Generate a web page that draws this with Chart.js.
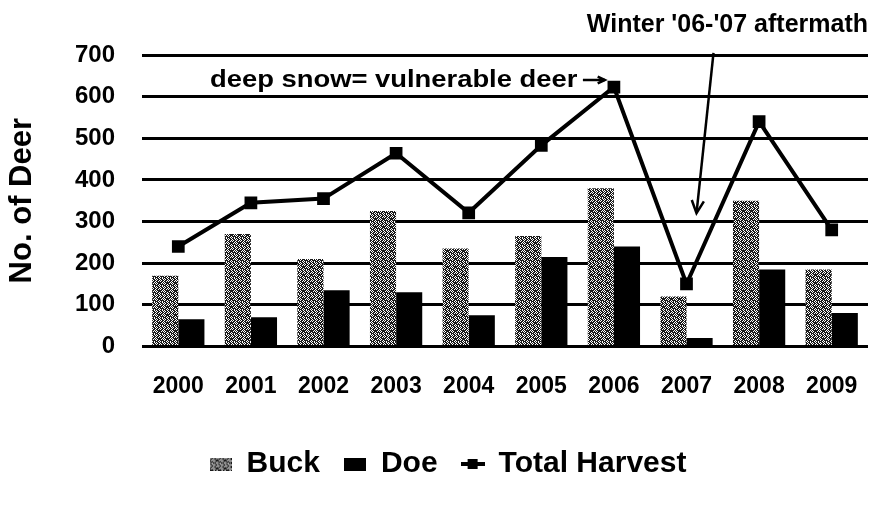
<!DOCTYPE html>
<html>
<head>
<meta charset="utf-8">
<script src="https://cdn.jsdelivr.net/npm/chart.js@4.4.0/dist/chart.umd.min.js"></script>
<style>
    html, body { margin: 0; padding: 0; background: #fff; }
</style>
</head>
<body>
<canvas id="deer-chart" width="888" height="506"></canvas>
<script>
// Harvest data
const years = ["2000", "2001", "2002", "2003", "2004", "2005", "2006", "2007", "2008", "2009"];
const buck = [170, 270, 210, 325, 235, 265, 380, 120, 350, 185];
const doe = [65, 70, 135, 130, 75, 215, 240, 20, 185, 80];
const totalHarvest = [240, 345, 355, 464, 321, 483, 623, 150, 540, 280];
const yTicks = [0, 100, 200, 300, 400, 500, 600, 700];
const legendOrder = ["Buck", "Doe", "Total Harvest"];

const FONT = "'Liberation Sans', Arial, sans-serif";

// Stippled fill used for the Buck bars
const stippleRows = [
    "10110110",
    "01101101",
    "11010111",
    "10101011",
    "11110110",
    "01011101",
    "11010110",
    "01101011"
];
function makeStipple(w, h) {
    const c = document.createElement("canvas");
    c.width = w;
    c.height = h;
    const g = c.getContext("2d");
    g.fillStyle = "#fff";
    g.fillRect(0, 0, w, h);
    g.fillStyle = "#1a1a1a";
    for (let y = 0; y < h; y++) {
        for (let x = 0; x < w; x++) {
            if (stippleRows[y % 8][x % 8] === "1") g.fillRect(x, y, 1, 1);
        }
    }
    return c;
}
const stippleTile = makeStipple(8, 8);
const stipplePattern = document.createElement("canvas").getContext("2d").createPattern(stippleTile, "repeat");

// Legend icons
const buckIcon = makeStipple(22, 13);
const doeIcon = document.createElement("canvas");
doeIcon.width = 22; doeIcon.height = 13;
doeIcon.getContext("2d").fillRect(0, 0, 22, 13);
const totalIcon = document.createElement("canvas");
totalIcon.width = 24; totalIcon.height = 12;
(function () {
    const g = totalIcon.getContext("2d");
    g.fillStyle = "#000";
    g.fillRect(0, 4, 24, 4);
    g.fillRect(7, 1, 10, 10);
})();
const legendIcons = [buckIcon, doeIcon, totalIcon];

function arrowHead(ctx, x0, y0, x1, y1, len) {
    const ang = Math.atan2(y1 - y0, x1 - x0);
    ctx.beginPath();
    ctx.moveTo(x1 - len * Math.cos(ang - 0.45), y1 - len * Math.sin(ang - 0.45));
    ctx.lineTo(x1, y1);
    ctx.lineTo(x1 - len * Math.cos(ang + 0.45), y1 - len * Math.sin(ang + 0.45));
    ctx.stroke();
}

// Text notes and the arrows
const notesPlugin = {
    id: "notes",
    afterDraw(chart) {
        const ctx = chart.ctx;
        const x = chart.scales.x;
        const y = chart.scales.y;
        ctx.save();
        ctx.fillStyle = "#000";
        ctx.strokeStyle = "#000";

        ctx.font = "bold 25px " + FONT;
        ctx.textAlign = "right";
        ctx.textBaseline = "alphabetic";
        ctx.fillText("Winter '06-'07 aftermath", 868, 32);

        ctx.save();
        ctx.translate(210, 87);
        ctx.scale(1.19, 1);
        ctx.font = "bold 23px " + FONT;
        ctx.textAlign = "left";
        ctx.fillText("deep snow= vulnerable deer", 0, 0);
        ctx.restore();

        // small arrow after the text, towards the 2006 peak
        const ax = x.getPixelForValue(6) - 9;
        ctx.lineWidth = 2.5;
        ctx.beginPath();
        ctx.moveTo(ax - 22, 80);
        ctx.lineTo(ax, 80);
        ctx.stroke();
        arrowHead(ctx, ax - 22, 80, ax, 80, 8);

        // long arrow pointing at 2007
        const x0 = x.getPixelForValue(7) + 27, y0 = y.getPixelForValue(705);
        const x1 = x.getPixelForValue(7) + 10, y1 = y.getPixelForValue(320);
        ctx.lineWidth = 2.5;
        ctx.beginPath();
        ctx.moveTo(x0, y0);
        ctx.lineTo(x1, y1);
        ctx.stroke();
        arrowHead(ctx, x0, y0, x1, y1, 14);
        ctx.restore();
    }
};

const ctx = document.getElementById("deer-chart").getContext("2d");

const deerChart = new Chart(ctx, {
    data: {
        labels: years,
        datasets: [
            {
                type: "line",
                label: "Total Harvest",
                data: totalHarvest,
                borderColor: "#000",
                backgroundColor: "#000",
                borderWidth: 4,
                pointStyle: "rect",
                pointRadius: 9,
                pointBorderWidth: 0,
                pointBackgroundColor: "#000",
                order: 0
            },
            {
                type: "bar",
                label: "Buck",
                data: buck,
                backgroundColor: stipplePattern,
                borderWidth: 0,
                order: 1
            },
            {
                type: "bar",
                label: "Doe",
                data: doe,
                backgroundColor: "#000",
                borderWidth: 0,
                order: 1
            }
        ]
    },
    options: {
        responsive: false,
        animation: false,
        layout: { padding: { top: 55, right: 20, bottom: 17, left: 28 } },
        datasets: {
            bar: { barPercentage: 1, categoryPercentage: 0.72 }
        },
        scales: {
            x: {
                grid: { display: false },
                border: { display: false },
                ticks: {
                    color: "#000",
                    padding: 18,
                    maxRotation: 0,
                    font: { family: FONT, size: 23, weight: "bold" }
                },
                afterFit(scale) { scale.height += 7; }
            },
            y: {
                min: 0,
                max: 700,
                afterBuildTicks(scale) { scale.ticks = yTicks.map(v => ({ value: v })); },
                grid: { color: "#000", lineWidth: 3, drawTicks: false },
                border: { display: false },
                ticks: {
                    color: "#000",
                    padding: 27,
                    font: { family: FONT, size: 24, weight: "bold" }
                },
                title: {
                    display: true,
                    text: "No. of Deer",
                    color: "#000",
                    padding: { top: -24, bottom: 0 },
                    font: { family: FONT, size: 31, weight: "bold" }
                },
                afterFit(scale) { scale.width = 114; }
            }
        },
        plugins: {
            legend: {
                position: "bottom",
                labels: {
                    color: "#000",
                    padding: 24,
                    usePointStyle: true,
                    pointStyleWidth: 22,
                    font: { family: FONT, size: 30, weight: "bold" },
                    sort: (a, b) => legendOrder.indexOf(a.text) - legendOrder.indexOf(b.text),
                    generateLabels(chart) {
                        const items = Chart.defaults.plugins.legend.labels.generateLabels(chart);
                        items.forEach(item => {
                            item.pointStyle = legendIcons[legendOrder.indexOf(item.text)];
                        });
                        return items;
                    }
                }
            },
            tooltip: { enabled: false }
        }
    },
    plugins: [notesPlugin]
});
</script>
</body>
</html>
